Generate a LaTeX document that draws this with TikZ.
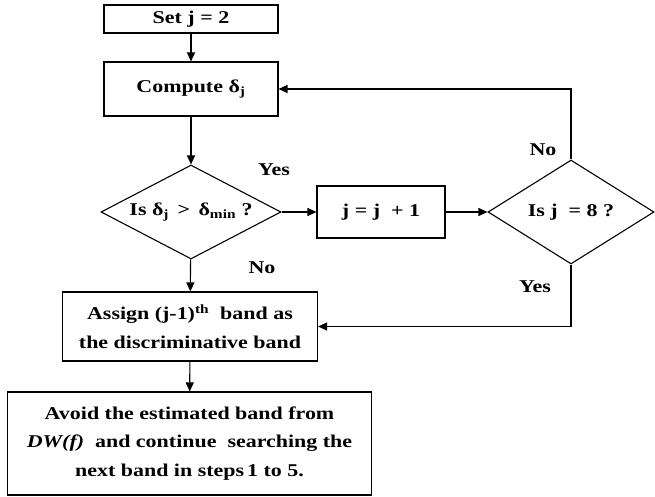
\documentclass[tikz,border=0pt]{standalone}
\usepackage{fontspec}
\setmainfont[FakeStretch=1.22]{Liberation Serif}
\usetikzlibrary{shapes.geometric,arrows.meta}
\tikzset{
  txt/.style={font=\fontsize{18}{28.5}\selectfont\bfseries},
  box/.style={draw, line width=1.1pt, inner sep=0pt, align=center, txt},
  dia/.style={draw, diamond, line width=1.1pt, inner sep=0pt},
  lbl/.style={txt, inner sep=0pt},
  arr/.style={line width=1.1pt, -{Triangle[length=9pt,width=8pt]}},
}
\begin{document}
\begin{tikzpicture}[x=1pt,y=-1pt]
\useasboundingbox (0,0) rectangle (655,497);
\node[box, minimum width=174, minimum height=28] (set) at (191,19) {Set j = 2};
\node[box, minimum width=174, minimum height=54] (comp) at (191,89) {Compute δ\textsubscript{j}};
\node[dia, minimum width=180, minimum height=94] (d1) at (191,212) {};
\node[lbl] (d1t) at (d1.center) {Is δ\textsubscript{j} \,>\, δ\textsubscript{min} ?};
\node[box, minimum width=128, minimum height=52] (inc) at (381,212) {j = j \ + 1};
\node[dia, minimum width=166, minimum height=104] (d2) at (571,212) {};
\node[lbl] (d2t) at (d2.center) {Is j \ = 8 ?};
\node[box, minimum width=255, minimum height=69] (assign) at (190,326.5) {Assign (j-1)\textsuperscript{th} \ band as\\the discriminative band};
\node[box, minimum width=364, minimum height=103] (fin) at (189.5,443.5) {Avoid the estimated band from\\\textit{DW(f)} \ and continue \ searching the\\next band in steps\,1 to 5.};
\draw[arr] (set) -- (comp);
\draw[arr] (comp) -- (d1);
\draw[arr] (d1) -- (inc);
\draw[arr] (inc) -- (d2);
\draw[arr] (d2.north) |- (comp.east);
\draw[arr] (d2.south) |- (assign.east);
\draw[arr] (d1) -- (assign);
\draw[arr] (assign) -- (fin);
\node[lbl] (yes1) at (274,170) {Yes};
\node[lbl] (no1) at (262,268) {No};
\node[lbl] (no2) at (543,150) {No};
\node[lbl] (yes2) at (535,287) {Yes};
\end{tikzpicture}
\end{document}
